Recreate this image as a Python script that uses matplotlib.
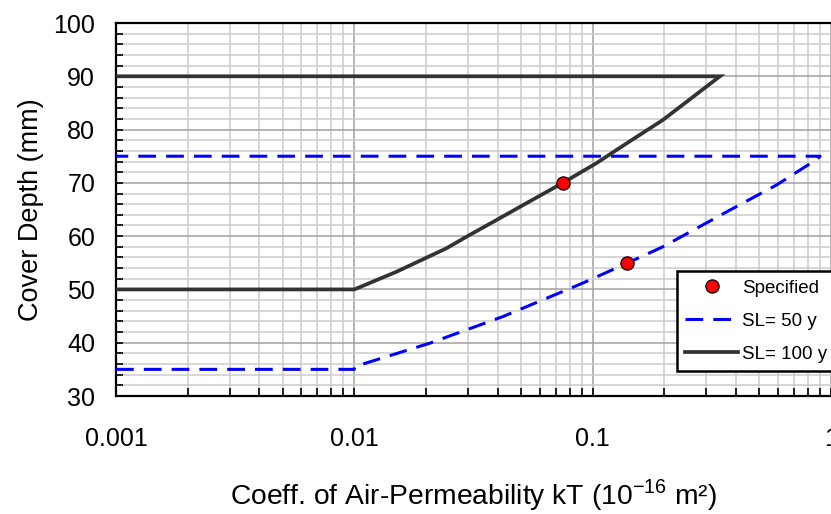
import matplotlib
matplotlib.use("Agg")
import matplotlib.pyplot as plt
from matplotlib.ticker import LogLocator, MultipleLocator, FixedLocator, NullFormatter

plt.rcParams['font.family'] = ['Liberation Sans', 'DejaVu Sans']

# SL = 100 y curve (goes up the curve, then back along the 90 mm line)
kt_100 = [0.001, 0.01, 0.015, 0.0243, 0.0304, 0.0394, 0.0543, 0.075, 0.1037, 0.1387, 0.197, 0.342, 0.001]
cover_100 = [50, 50, 53.3, 57.7, 60.2, 63.0, 66.5, 70.0, 73.7, 77.4, 81.8, 90, 90]

# SL = 50 y curve (then back along the 75 mm line)
kt_50 = [0.001, 0.01, 0.01, 0.0207, 0.042, 0.091, 0.1407, 0.197, 0.377, 0.591, 0.871, 0.9, 0.001]
cover_50 = [35, 35, 35.5, 39.9, 44.9, 51.2, 55.0, 58.0, 64.9, 69.6, 74.4, 75, 75]

# specified points
spec_kt = [0.075, 0.14]
spec_cover = [70, 55]

fig = plt.figure(figsize=(8.31, 5.14), dpi=100)
ax = fig.add_axes([116/831, 1-396/514, 1-116/831, (396-23)/514])

ax.set_xscale('log')
ax.set_xlim(0.001, 1)
ax.set_ylim(30, 100)

# grid
ax.xaxis.set_major_locator(FixedLocator([0.001, 0.01, 0.1, 1]))
ax.xaxis.set_minor_locator(LogLocator(base=10, subs=range(2, 10)))
ax.xaxis.set_minor_formatter(NullFormatter())
ax.yaxis.set_major_locator(MultipleLocator(10))
ax.yaxis.set_minor_locator(MultipleLocator(2))
ax.grid(which='minor', color='#cccccc', lw=1.1)
ax.grid(which='major', color='#a0a0a0', lw=1.1)
ax.set_axisbelow(True)

ax.plot(spec_kt, spec_cover, 'o', color='red', mec='black', mew=0.9, ms=9.5,
        label='Specified', zorder=5)
ax.plot(kt_50, cover_50, color='#0000ff', lw=2.2, ls=(0, (5.8, 3.3)),
        label='SL= 50 y', zorder=3)
ax.plot(kt_100, cover_100, color='#333333', lw=2.7, label='SL= 100 y', zorder=4,
        solid_joinstyle='miter')

ax.set_xticklabels(['0.001', '0.01', '0.1', '1'])
ax.tick_params(which='both', direction='in', labelsize=18, width=1.2)
ax.tick_params(axis='x', which='both', length=6, pad=22)
ax.tick_params(axis='y', which='both', length=5, pad=15)

for s in ['left', 'bottom', 'top']:
    ax.spines[s].set_linewidth(1.6)
ax.spines['right'].set_visible(False)

ax.set_ylabel('Cover Depth (mm)', fontsize=19.5, labelpad=7)
ax.set_xlabel(r'Coeff. of Air-Permeability kT (10$^{\mathregular{-16}}$ m²)',
              fontsize=20.3, labelpad=19)

leg = ax.legend(loc='upper left', bbox_to_anchor=((677-116)/715, (396-271)/373),
                borderaxespad=0, fancybox=False, framealpha=1, edgecolor='black',
                fontsize=13.5, handlelength=2.8, handletextpad=0.2,
                labelspacing=0.85, borderpad=0.45)
leg.get_frame().set_linewidth(1.8)

fig.savefig('out.png', dpi=100)
